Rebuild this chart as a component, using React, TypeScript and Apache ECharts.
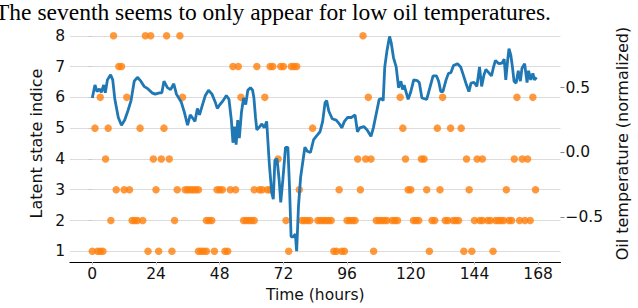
import React, { useEffect, useRef } from "react";
import * as echarts from "echarts";

// Time ticks (hours)
const xTicks = [0, 24, 48, 72, 96, 120, 144, 168];
const stateTicks = [1, 2, 3, 4, 5, 6, 7, 8];
const tempTicks = [-0.5, 0, 0.5];

// Hours at which each latent state appears
const state1 = [0, 2, 3, 4, 21, 25, 30, 40, 41, 42, 43, 46, 50, 51, 74, 91, 92, 94, 95, 106, 127, 140, 143, 151];
const state2 = [7, 15, 16, 17, 19, 31, 43, 44, 45, 57, 58, 59, 60, 61, 73, 79, 80, 81, 82, 85, 86, 87, 88, 89, 90, 96, 97, 98, 99, 107, 108, 109, 110, 111, 113, 114, 115, 121, 122, 123, 128, 129, 133, 134, 136, 137, 138, 144, 146, 147, 149, 150, 152, 153, 154, 155, 157, 158, 161, 163, 165];
const state3 = [9, 12, 14, 24, 32, 35, 36, 37, 38, 39, 40, 47, 48, 49, 52, 54, 61, 63, 64, 66, 67, 78, 93, 101, 119, 120, 126, 131, 142, 156, 167];
const state4 = [5, 23, 26, 29, 70, 100, 103, 105, 118, 124, 125, 141, 145, 147, 159, 162, 164];
const state5 = [1, 6, 18, 27, 83, 117, 130, 135, 139];
const state6 = [3, 13, 34, 56, 65, 104, 116, 132, 160, 166];
const state7 = [10, 11, 53, 55, 62, 67, 68, 71, 72, 75, 76, 77];
const state8 = [8, 20, 22, 28, 33, 102];

// Oil temperature (normalized): hours and values
const tempHours = [0, 1, 1.8, 2.7, 3.4, 4.3, 4.9, 5.7, 6.9, 7.7, 8.5, 9.8, 11, 12.2, 13.4, 14.6, 15.8, 17, 18.3, 19.5, 21, 22.5, 23.7, 25.3, 26.2, 27, 28.3, 29.5, 30.7, 31.7, 33.5, 34.7, 35.9, 36.9, 38, 38.7, 39.6, 40.4, 41.4, 42.6, 43.8, 45.1, 46.3, 47.1, 48.1, 49.3, 50.5, 51.5, 52.4, 53, 53.6, 54.2, 54.8, 55.4, 56.2, 57, 57.8, 58.6, 59.6, 60.4, 60.9, 61.5, 62, 62.7, 63.9, 64.8, 65.7, 66.7, 67.6, 68.2, 68.8, 69.6, 70.4, 71, 71.8, 72.8, 73.7, 74.3, 74.9, 75.7, 76.5, 77, 77.7, 78.5, 79.4, 80.1, 81, 82.2, 83.4, 84.6, 85.8, 86.8, 87.7, 88.3, 89.1, 90.4, 91.9, 93.1, 94, 95, 96.2, 97.7, 99, 99.9, 100.8, 102.3, 103.5, 105, 105.9, 107.2, 108.1, 109, 109.6, 110.2, 111, 112, 112.6, 113.5, 114.5, 115.4, 116.3, 116.9, 117.5, 119, 119.9, 121.1, 122.4, 123.2, 124.2, 126, 127.2, 128.4, 129.7, 130.5, 131.3, 132.1, 133.3, 134.2, 135.1, 136.1, 137.6, 138.8, 140, 141, 141.9, 142.7, 143.9, 144.9, 145.9, 146.7, 147.6, 148.3, 149.2, 150.4, 151.2, 151.9, 153.2, 154.4, 155.2, 155.8, 156.5, 157, 157.7, 158.3, 158.9, 159.7, 160.5, 161.3, 161.9, 162.9, 163.8, 164.4, 165.2, 166, 166.6, 167.4];
const tempValues = [0.42, 0.52, 0.47, 0.49, 0.465, 0.52, 0.46, 0.56, 0.6, 0.56, 0.41, 0.27, 0.21, 0.25, 0.32, 0.4, 0.55, 0.58, 0.55, 0.51, 0.49, 0.46, 0.45, 0.46, 0.46, 0.55, 0.5, 0.485, 0.53, 0.45, 0.39, 0.31, 0.21, 0.29, 0.26, 0.24, 0.34, 0.29, 0.36, 0.44, 0.48, 0.45, 0.39, 0.34, 0.37, 0.4, 0.44, 0.41, 0.25, 0.075, 0.2, 0.06, 0.25, 0.11, 0.31, 0.42, 0.37, 0.48, 0.5, 0.48, 0.42, 0.27, 0.175, 0.19, 0.22, 0.19, 0.24, -0.087, -0.31, -0.36, -0.06, -0.05, -0.21, -0.385, -0.21, 0.04, 0.04, -0.26, -0.65, -0.65, -0.63, -0.76, -0.41, -0.19, -0.06, 0.04, 0.01, 0.0, 0.1, 0.13, 0.16, 0.24, 0.385, 0.4, 0.32, 0.26, 0.25, 0.22, 0.19, 0.24, 0.27, 0.27, 0.29, 0.16, 0.19, 0.2, 0.175, 0.125, 0.19, 0.32, 0.41, 0.415, 0.4, 0.66, 0.78, 0.895, 0.85, 0.73, 0.66, 0.5, 0.55, 0.485, 0.52, 0.41, 0.46, 0.56, 0.555, 0.54, 0.42, 0.41, 0.5, 0.59, 0.59, 0.55, 0.47, 0.47, 0.56, 0.61, 0.615, 0.67, 0.685, 0.66, 0.585, 0.52, 0.47, 0.535, 0.54, 0.51, 0.66, 0.51, 0.6, 0.64, 0.62, 0.59, 0.66, 0.71, 0.685, 0.69, 0.72, 0.56, 0.71, 0.8, 0.75, 0.66, 0.55, 0.535, 0.63, 0.55, 0.65, 0.685, 0.54, 0.63, 0.56, 0.61, 0.56, 0.58];

const caption = "The seventh seems to only appear for low oil temperatures.";

const states = [state1, state2, state3, state4, state5, state6, state7, state8];

export default function App() {
  const ref = useRef<HTMLDivElement>(null);
  useEffect(() => {
    if (!ref.current) return;
    const chart = echarts.init(ref.current, null, { renderer: "svg" });
    const scatterData: number[][] = [];
    states.forEach((hours, i) => hours.forEach((h) => scatterData.push([h, i + 1])));
    const lineData = tempHours.map((h, i) => [h, tempValues[i]]);
    const fmtMinus = (v: number) => (v < 0 ? "\u2212" + Math.abs(v).toFixed(1) : v.toFixed(1));
    const font = "DejaVu Sans";
    const fs = 15.5;
    chart.setOption({
      animation: false,
      textStyle: { fontFamily: font },
      graphic: [
        {
          type: "text",
          left: -5,
          top: 0,
          style: {
            text: caption,
            fontFamily: "Liberation Serif",
            fontSize: 23.5,
            fill: "#000",
          },
        },
      ],
      grid: { left: 70, right: 65, top: 25, bottom: 38 },
      xAxis: {
        type: "value",
        min: -8.4,
        max: 176.4,
        name: "Time (hours)",
        nameLocation: "middle",
        nameGap: 22,
        nameTextStyle: { fontSize: fs, color: "#111", fontFamily: font },
        axisLine: { show: true, onZero: false, lineStyle: { color: "#000", width: 1.2 } },
        axisTick: { show: true, length: 3, lineStyle: { color: "#ccc" }, customValues: xTicks },
        axisLabel: { fontSize: fs, color: "#111", margin: 4, fontFamily: font, customValues: xTicks },
        splitLine: { show: false },
      },
      yAxis: [
        {
          type: "value",
          min: 0.65,
          max: 8.35,
          position: "left",
          name: "Latent state indice",
          nameLocation: "middle",
          nameRotate: 90,
          nameGap: 19,
          nameTextStyle: { fontSize: 16, color: "#111", fontFamily: font },
          axisLine: { show: false },
          axisTick: { show: true, length: 4, lineStyle: { color: "#ccc" }, customValues: stateTicks },
          axisLabel: { fontSize: fs, color: "#111", margin: 5, fontFamily: font, customValues: stateTicks },
          splitLine: { show: true, lineStyle: { color: "#dcdcdc", width: 1 } },
        },
        {
          type: "value",
          min: -0.845,
          max: 0.983,
          position: "right",
          name: "Oil temperature (normalized)",
          nameLocation: "middle",
          nameRotate: 90,
          nameGap: 49,
          nameTextStyle: { fontSize: 16, color: "#111", fontFamily: font },
          axisLine: { show: false },
          axisTick: { show: true, length: 4, lineStyle: { color: "#888" }, customValues: tempTicks },
          axisLabel: {
            fontSize: fs,
            color: "#111",
            margin: 5,
            fontFamily: font,
            customValues: tempTicks,
            formatter: (v: number) => fmtMinus(v),
          },
          splitLine: { show: false },
        },
      ],
      series: [
        {
          type: "scatter",
          yAxisIndex: 0,
          data: scatterData,
          symbolSize: 7.5,
          itemStyle: { color: "#ff7f0e", opacity: 0.8 },
          z: 2,
        },
        {
          type: "line",
          yAxisIndex: 1,
          data: lineData,
          showSymbol: false,
          symbol: "none",
          lineStyle: { color: "#1f77b4", width: 2.8 },
          z: 3,
        },
      ],
    });
    return () => chart.dispose();
  }, []);
  return <div ref={ref} style={{ width: 638, height: 308, position: "absolute", left: 0, top: 0 }} />;
}
